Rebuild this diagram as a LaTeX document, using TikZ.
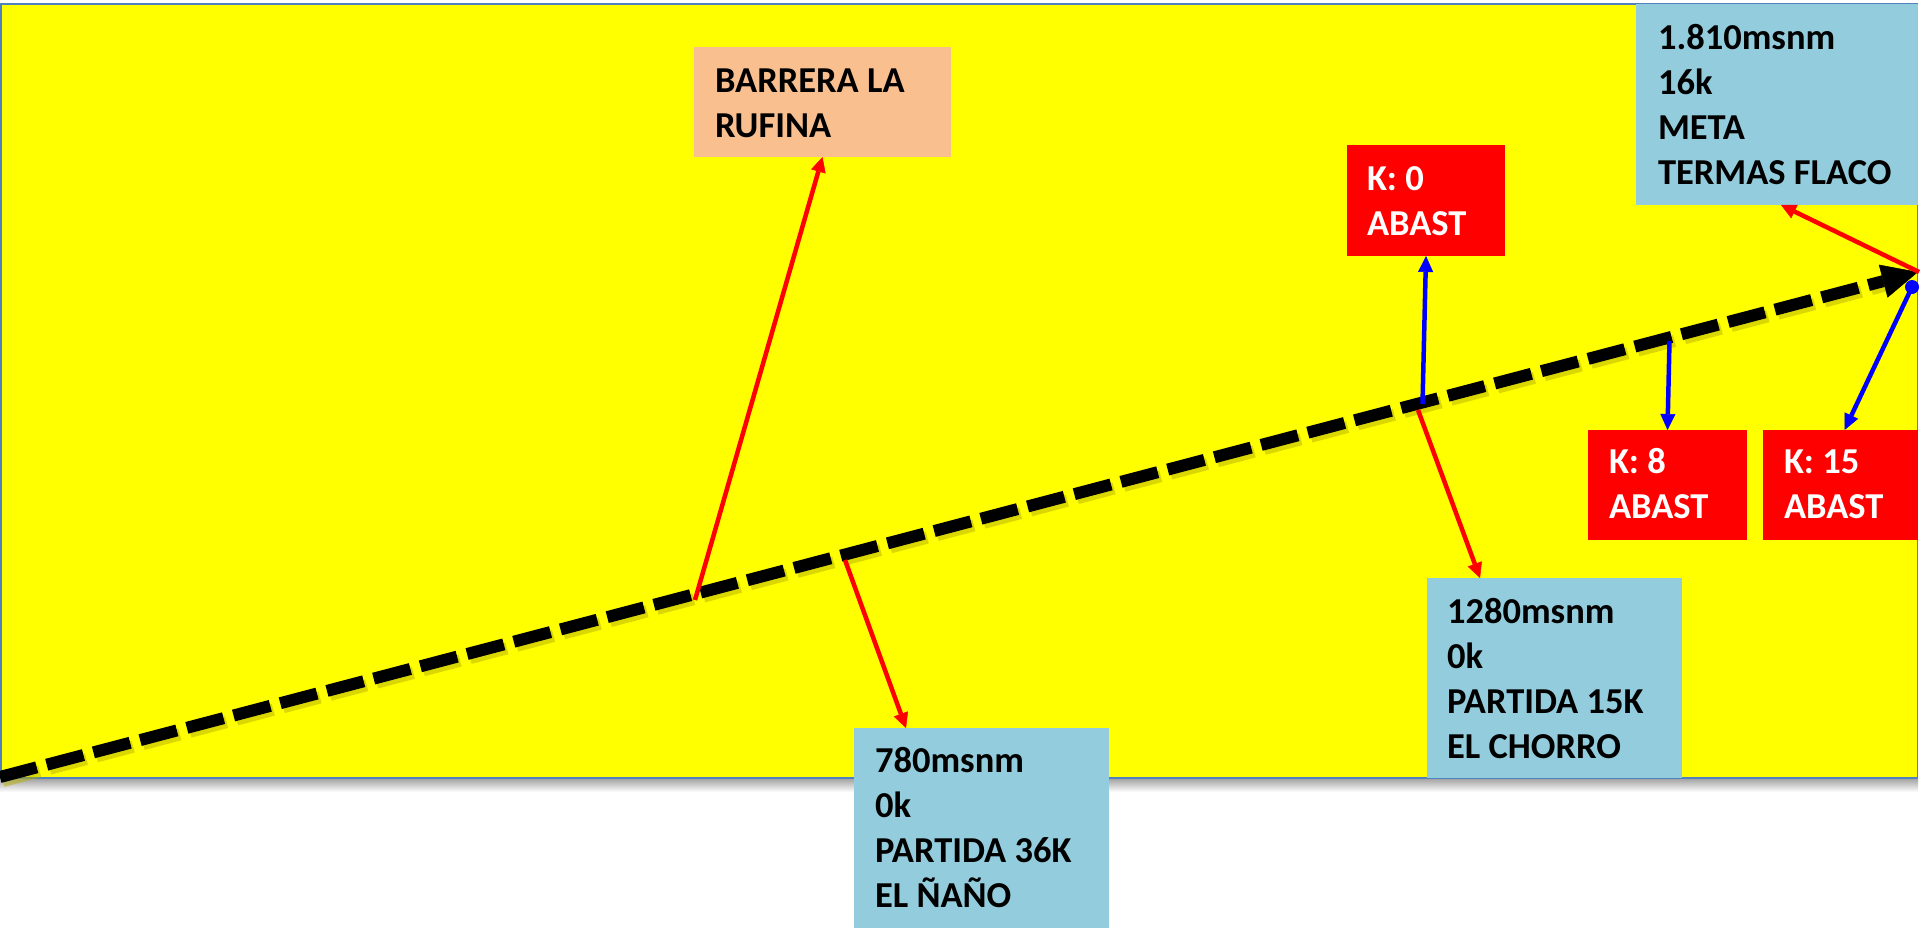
\documentclass[tikz,border=0pt]{standalone}
\usepackage{fontspec}
\setmainfont{Carlito}
\usetikzlibrary{arrows.meta}
\definecolor{ylw}{HTML}{FFFF00}
\definecolor{lblue}{HTML}{93CDDD}
\definecolor{peach}{HTML}{FABF8F}
\definecolor{frame}{HTML}{4F81BD}
\definecolor{shad}{HTML}{B8B000}
\tikzset{
  box/.style={anchor=north west, inner sep=0pt, outer sep=0pt, draw=none},
  txt/.style={anchor=base west, inner sep=0pt, outer sep=0pt, align=left,
              font=\fontsize{36.5}{45}\selectfont\bfseries},
  redarrow/.style={draw=red, line width=4.5pt, -{Triangle[length=15pt,width=15pt,line width=0.5pt]}},
  bluearrow/.style={draw=blue, line width=4.5pt, -{Triangle[length=16pt,width=15pt,line width=0.5pt]}},
  route/.style={line width=12pt, dash pattern=on 38pt off 10.3pt},
}
\begin{document}
\begin{tikzpicture}[x=1pt,y=-1pt]
\useasboundingbox (0,0) rectangle (1920,930);
% background panel
\shade[top color=gray!70, bottom color=white] (0,779) rectangle (1918,792);
\draw[frame, line width=1.5pt, fill=ylw] (0.75,4) rectangle (1917.5,778);

% route line
\coordinate (s0) at (0,777);
\coordinate (s1) at (1918,272);
\begin{scope}[shift={(3,4)}]
  \draw[route, draw=shad, opacity=0.5] (0,777) -- (1884,281);
\end{scope}
\draw[route, -{Triangle[length=36pt,width=34pt,line width=0.5pt]}] (s0) -- (s1);

% boxes
\node[box, fill=peach, minimum width=257pt, minimum height=110pt] (barrera) at (694,47) {};
\node[box, fill=lblue, minimum width=255pt, minimum height=200pt] (nano) at (854,728) {};
\node[box, fill=lblue, minimum width=255pt, minimum height=200pt] (chorro) at (1427,578) {};
\node[box, fill=lblue, minimum width=282pt, minimum height=201pt] (meta) at (1636,4) {};
\node[box, fill=red, minimum width=158pt, minimum height=111pt] (k0) at (1347,145) {};
\node[box, fill=red, minimum width=159pt, minimum height=110pt] (k8) at (1588,430) {};
\node[box, fill=red, minimum width=155pt, minimum height=110pt] (k15) at (1763,430) {};

% points on the route
\coordinate (pb) at (695,600);
\coordinate (pn) at (845,560);
\coordinate (pc) at (1418,410);
\coordinate (pk0) at (1422.5,404);
\coordinate (pk8) at (1669.5,341);
\coordinate (pm) at (1919,272);
\node[circle, fill=blue, minimum size=14pt, inner sep=0pt] (dot) at (1912,287) {};

% red connectors
\draw[redarrow] (pb) -- (barrera.south);
\draw[redarrow] (pn) -- ([xshift=-75.5pt]nano.north);
\draw[redarrow] (pc) -- ([xshift=-74.5pt]chorro.north);
\draw[redarrow] (pm) -- ([xshift=4pt]meta.south);

% blue connectors
\draw[bluearrow] (pk0) -- (k0.south);
\draw[bluearrow] (pk8) -- (k8.north);
\draw[bluearrow] (dot.center) -- ([xshift=4pt]k15.north);

% texts (anchored at the baseline of the last line)
\node[txt] (tbarrera) at (715,137) {BARRERA LA\\RUFINA};
\node[txt] (tnano) at (875,907) {780msnm\\0k\\PARTIDA 36K\\EL ÑAÑO};
\node[txt] (tchorro) at (1447,758) {1280msnm\\0k\\PARTIDA 15K\\EL CHORRO};
\node[txt] (tmeta) at (1658,184) {1.810msnm\\16k\\META\\TERMAS FLACO};
\node[txt, text=white] (tk0) at (1367,235) {K: 0\\ABAST};
\node[txt, text=white] (tk8) at (1609,518) {K: 8\\ABAST};
\node[txt, text=white] (tk15) at (1784,518) {K: 15\\ABAST};
\end{tikzpicture}
\end{document}
